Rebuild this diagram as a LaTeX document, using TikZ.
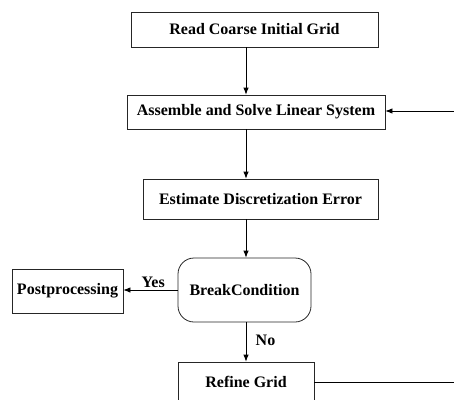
\documentclass[tikz,border=0pt]{standalone}
\usepackage{fontspec}
\setmainfont{Liberation Serif}
\usetikzlibrary{arrows.meta}
\begin{document}
\begin{tikzpicture}[x=1pt,y=-1pt,
  every node/.style={font=\fontsize{16}{19}\selectfont\bfseries},
  box/.style={draw=black!85,line width=0.8pt,inner sep=0pt,anchor=center},
  arr/.style={line width=0.8pt,-{Latex[length=7pt,width=5.5pt]}},
  ln/.style={line width=0.8pt}]
\useasboundingbox (0,0) rectangle (454,399);
\clip (0,0) rectangle (454,399);
\node[box,minimum width=247pt,minimum height=35pt] (b1) at (254.5,29.5) {Read Coarse Initial Grid};
\node[box,minimum width=258pt,minimum height=34pt] (b2) at (256,112) {Assemble and Solve Linear System};
\node[box,minimum width=235pt,minimum height=40pt] (b3) at (260.5,199) {Estimate Discretization Error\hspace{8pt}};
\node[box,rounded corners=16pt,minimum width=133pt,minimum height=64pt] (bc) at (244.5,290) {BreakCondition};
\node[box,minimum width=111pt,minimum height=44pt] (pp) at (67.5,291) {Postprocessing};
\node[box,minimum width=136pt,minimum height=40pt] (rg) at (246,382) {Refine Grid};
\coordinate (ax) at (246,0);
\coordinate (rin) at (454,111);
\coordinate (rout) at (454,382);
\draw[arr] (b1.south -| ax) -- (b2.north -| ax);
\draw[arr] (b2.south -| ax) -- (b3.north -| ax);
\draw[arr] (b3.south -| ax) -- (bc.north -| ax);
\draw[arr] (bc.south -| ax) -- node[right=6pt,pos=0.45] {No} (rg.north -| ax);
\draw[arr] (bc.west) -- node[above=-1pt,pos=0.45] {Yes} (bc.west -| pp.east);
\draw[arr] (rin) -- (rin -| b2.east);
\draw[ln] (rg.east) -- (rout);
\end{tikzpicture}
\end{document}
